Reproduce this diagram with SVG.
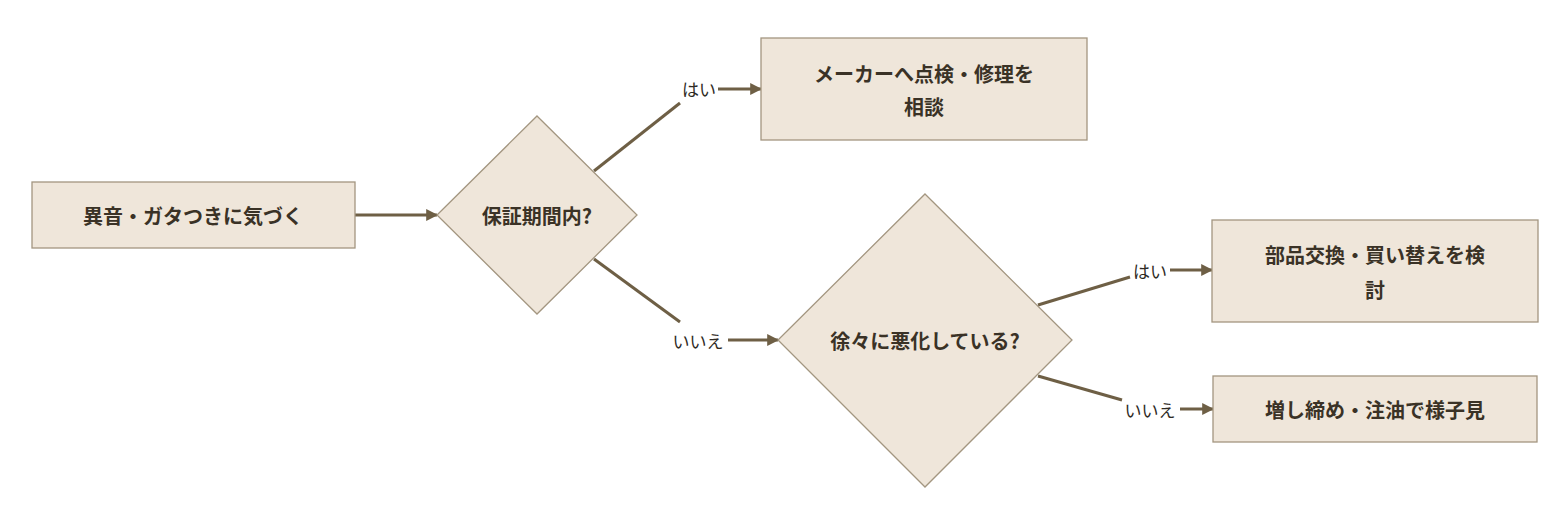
<svg xmlns="http://www.w3.org/2000/svg" width="1568" height="508" viewBox="0 0 1568 508">
<style>
.n{fill:#efe6da;stroke:#a39680;stroke-width:1.3}
.t{font-family:"Noto Sans CJK JP","Noto Sans",sans-serif;font-weight:bold;font-size:20px;fill:#3a3226;text-anchor:middle;dominant-baseline:central}
.l{font-family:"Noto Sans CJK JP","Noto Sans",sans-serif;font-size:17px;fill:#2e2a24;text-anchor:middle;dominant-baseline:central}
.c{stroke:#6e5f45;stroke-width:3;fill:none}
</style>
<defs><marker id="a" viewBox="0 0 10 10" refX="9" refY="5" markerWidth="4" markerHeight="4" orient="auto"><path d="M0,0L10,5L0,10z" fill="#6e5f45"/></marker></defs>
<rect width="1568" height="508" fill="#fff"/>
<g id="connectors">
<path class="c" d="M355,215H437" marker-end="url(#a)"/>
<path class="c" d="M594,171L680,103"/>
<path class="c" d="M718,89H761" marker-end="url(#a)"/>
<path class="c" d="M594,259L680,322"/>
<path class="c" d="M728,340H778" marker-end="url(#a)"/>
<path class="c" d="M1038,305L1130,277"/>
<path class="c" d="M1170,270H1212" marker-end="url(#a)"/>
<path class="c" d="M1038,376L1122,400"/>
<path class="c" d="M1180,409H1213" marker-end="url(#a)"/>
<text class="l" x="699" y="88">はい</text>
<text class="l" x="698" y="340">いいえ</text>
<text class="l" x="1150" y="270">はい</text>
<text class="l" x="1150" y="409">いいえ</text>
</g>
<g id="start"><rect class="n" x="32" y="182" width="323" height="66"/><text class="t" x="193" y="215">異音・ガタつきに気づく</text></g>
<g id="d1"><path class="n" d="M537,116L637,215L537,314L437,215z"/><text class="t" x="537" y="215">保証期間内?</text></g>
<g id="maker"><rect class="n" x="761" y="38" width="326" height="102"/><text class="t" x="924" y="73">メーカーへ点検・修理を</text><text class="t" x="924" y="106">相談</text></g>
<g id="d2"><path class="n" d="M925,194L1072,340L925,487L778,340z"/><text class="t" x="925" y="340">徐々に悪化している?</text></g>
<g id="replace"><rect class="n" x="1212" y="220" width="326" height="102"/><text class="t" x="1375" y="254">部品交換・買い替えを検</text><text class="t" x="1375" y="289">討</text></g>
<g id="tighten"><rect class="n" x="1213" y="376" width="324" height="66"/><text class="t" x="1375" y="409">増し締め・注油で様子見</text></g>
</svg>
